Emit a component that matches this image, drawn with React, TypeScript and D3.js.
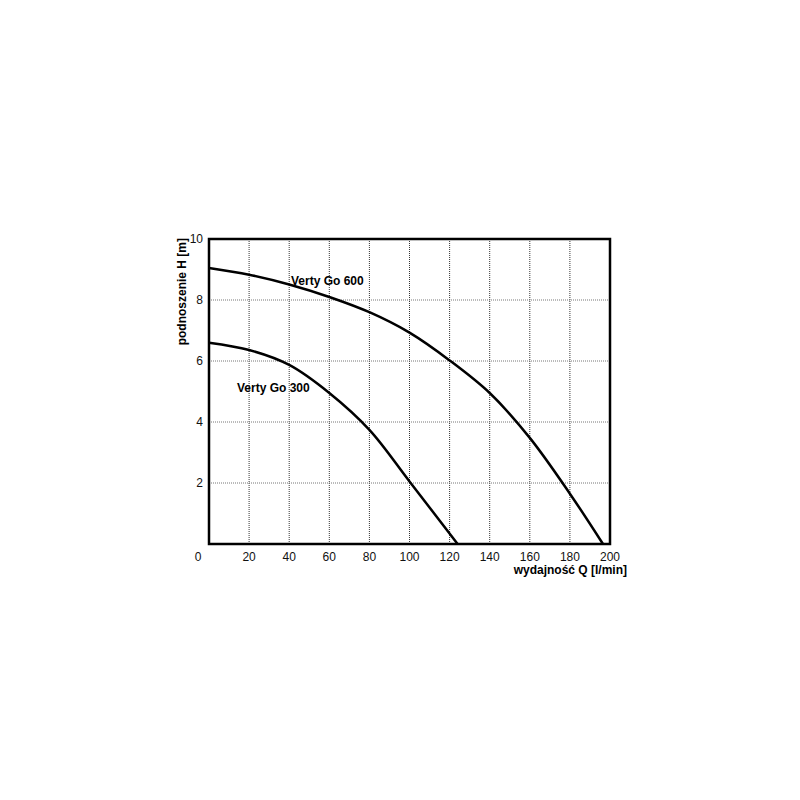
import React from 'react';
import * as d3 from 'd3';

// Pump curves: Q [l/min] vs H [m]
const goQ600 = [0, 20, 40, 60, 80, 100, 120, 140, 160, 180, 196.5];
const goH600 = [9.05, 8.83, 8.51, 8.1, 7.6, 6.93, 6.02, 4.95, 3.48, 1.65, 0];
const goQ300 = [0, 20, 40, 60, 80, 100, 124];
const goH300 = [6.6, 6.36, 5.87, 4.95, 3.74, 2.05, 0];
const xTicks = [0, 20, 40, 60, 80, 100, 120, 140, 160, 180, 200];
const yTicks = [2, 4, 6, 8, 10];

const W = 800;
const H = 800;
const box = { left: 209, right: 610, top: 239, bottom: 544 };
const font = 'Arial, "Liberation Sans", sans-serif';

export default function App() {
  const x = d3.scaleLinear().domain([0, 200]).range([box.left, box.right]);
  const y = d3.scaleLinear().domain([0, 10]).range([box.bottom, box.top]);

  const line = d3.line<[number, number]>()
    .x((d) => x(d[0]))
    .y((d) => y(d[1]))
    .curve(d3.curveCatmullRom.alpha(0.5));

  const pts600 = goQ600.map((q, i) => [q, goH600[i]] as [number, number]);
  const pts300 = goQ300.map((q, i) => [q, goH300[i]] as [number, number]);

  return (
    <svg width={W} height={H} style={{ position: 'absolute', left: 0, top: 0, background: '#fff' }}>
      {/* grid */}
      {xTicks.slice(1, -1).map((t) => (
        <line key={'gx' + t} x1={x(t)} x2={x(t)} y1={box.top} y2={box.bottom}
          stroke="#333" strokeWidth={1} strokeDasharray="1,1" />
      ))}
      {yTicks.slice(0, -1).map((t) => (
        <line key={'gy' + t} x1={box.left} x2={box.right} y1={y(t)} y2={y(t)}
          stroke="#777" strokeWidth={1} strokeDasharray="1,1" />
      ))}

      {/* curves */}
      <path d={line(pts600) || ''} fill="none" stroke="#000" strokeWidth={2.5} />
      <path d={line(pts300) || ''} fill="none" stroke="#000" strokeWidth={2.5} />

      {/* frame */}
      <rect x={box.left} y={box.top} width={box.right - box.left} height={box.bottom - box.top}
        fill="none" stroke="#000" strokeWidth={2.5} />

      {/* tick labels */}
      {xTicks.map((t) => (
        <text key={'tx' + t} x={t === 0 ? x(t) - 11 : x(t)} y={561} textAnchor="middle"
          fontFamily={font} fontSize={12} fill="#111">{t}</text>
      ))}
      {yTicks.map((t) => (
        <text key={'ty' + t} x={203} y={y(t) + 4} textAnchor="end"
          fontFamily={font} fontSize={12} fill="#111">{t}</text>
      ))}

      {/* series labels */}
      <text x={291} y={285} fontFamily={font} fontSize={12} fontWeight="bold">Verty Go 600</text>
      <text x={237} y={392} fontFamily={font} fontSize={12} fontWeight="bold">Verty Go 300</text>

      {/* axis titles */}
      <text x={627} y={574} textAnchor="end" fontFamily={font} fontSize={12} fontWeight="bold">
        wydajność Q [l/min]
      </text>
      <text transform={`translate(186,238) rotate(-90)`} textAnchor="end"
        fontFamily={font} fontSize={12} fontWeight="bold">
        podnoszenie H [m]
      </text>
    </svg>
  );
}
